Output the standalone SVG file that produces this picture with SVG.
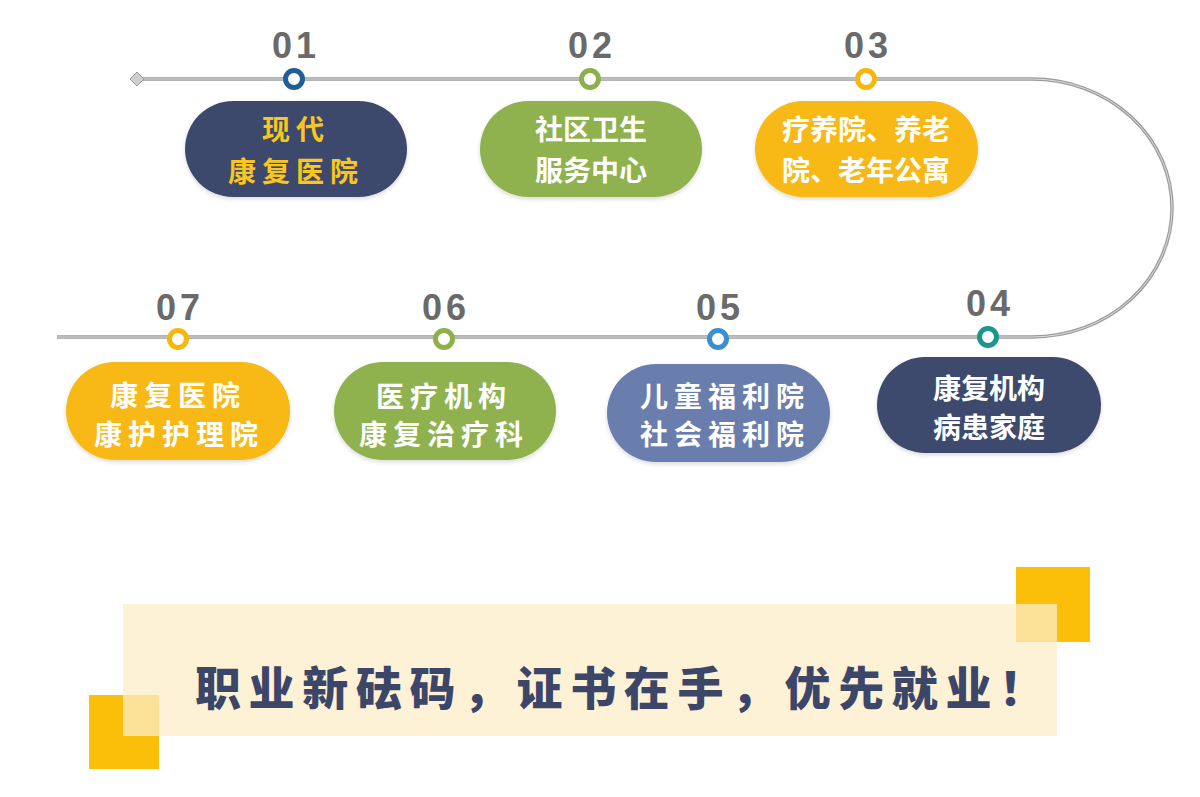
<svg xmlns="http://www.w3.org/2000/svg" width="1200" height="797" viewBox="0 0 1200 797">
<defs>
<style>
.num{font-family:"Liberation Sans","DejaVu Sans",sans-serif;font-weight:700;font-size:36px;fill:#6a6a6a;text-anchor:middle;letter-spacing:4px}
.pt{font-family:"Noto Sans CJK SC","Noto Sans",sans-serif;font-weight:700;font-size:28px;fill:#ffffff;text-anchor:middle}
.wide{letter-spacing:6px}
.yel{fill:#f9c61d}
.ring{fill:#ffffff;stroke-width:5}
.banner{font-family:"Noto Sans CJK SC","Noto Sans",sans-serif;font-weight:900;font-size:46px;fill:#3b4668;letter-spacing:7.6px}
</style>
<filter id="sh" x="-10%" y="-10%" width="120%" height="130%">
<feDropShadow dx="0" dy="2" stdDeviation="2" flood-color="#000" flood-opacity="0.15"/>
</filter>
</defs>
<rect width="1200" height="797" fill="#ffffff"/>
<g id="connectors">
<path d="M137,79 H1032 A140,129 0 0 1 1032,337 H57" fill="none" stroke="#9c9c9c" stroke-width="3.5"/>
<path d="M137,79 H1032 A140,129 0 0 1 1032,337 H57" fill="none" stroke="#dcdcdc" stroke-width="1"/>
<path d="M130,79 L137,72 L144,79 L137,86 Z" fill="#cfcfcf" stroke="#9a9a9a" stroke-width="1"/>
</g>
<g id="n01">
<text class="num" x="296" y="58">01</text>
<circle class="ring" cx="294" cy="79" r="8.5" stroke="#1f5e97"/>
<rect x="185" y="101" width="222" height="96" rx="48" fill="#3d4a6c" filter="url(#sh)"/>
<text class="pt yel wide" x="296" y="140">现代</text>
<text class="pt yel wide" x="296" y="182">康复医院</text>
</g>
<g id="n02">
<text class="num" x="592" y="58">02</text>
<circle class="ring" cx="590" cy="79" r="8.5" stroke="#8db04a"/>
<rect x="480" y="101" width="222" height="96" rx="48" fill="#8fb24f" filter="url(#sh)"/>
<text class="pt" x="591" y="140">社区卫生</text>
<text class="pt" x="591" y="181">服务中心</text>
</g>
<g id="n03">
<text class="num" x="868" y="58">03</text>
<circle class="ring" cx="866" cy="79" r="8.5" stroke="#f5b80a"/>
<rect x="755" y="101" width="223" height="96" rx="48" fill="#f8b912" filter="url(#sh)"/>
<text class="pt" x="866" y="140">疗养院、养老</text>
<text class="pt" x="866" y="181">院、老年公寓</text>
</g>
<g id="n04">
<text class="num" x="990" y="316">04</text>
<circle class="ring" cx="988" cy="337" r="8.5" stroke="#1b968a"/>
<rect x="877" y="357" width="224" height="96" rx="48" fill="#3e4a6d" filter="url(#sh)"/>
<text class="pt" x="989" y="399">康复机构</text>
<text class="pt" x="989" y="438">病患家庭</text>
</g>
<g id="n05">
<text class="num" x="720" y="320">05</text>
<circle class="ring" cx="718" cy="339" r="8.5" stroke="#3a8fd2"/>
<rect x="607" y="364" width="223" height="98" rx="49" fill="#6b7eae" filter="url(#sh)"/>
<text class="pt wide" x="725" y="407">儿童福利院</text>
<text class="pt wide" x="725" y="445">社会福利院</text>
</g>
<g id="n06">
<text class="num" x="446" y="320">06</text>
<circle class="ring" cx="444" cy="339" r="8.5" stroke="#8db04a"/>
<rect x="334" y="362" width="222" height="98" rx="49" fill="#8fb24f" filter="url(#sh)"/>
<text class="pt wide" x="444" y="407">医疗机构</text>
<text class="pt wide" x="444" y="445">康复治疗科</text>
</g>
<g id="n07">
<text class="num" x="180" y="320">07</text>
<circle class="ring" cx="178" cy="339" r="8.5" stroke="#f5b80a"/>
<rect x="66" y="362" width="224" height="98" rx="49" fill="#f8b912" filter="url(#sh)"/>
<text class="pt wide" x="178" y="406">康复医院</text>
<text class="pt wide" x="179" y="445">康护护理院</text>
</g>
<g id="banner">
<rect x="89" y="695" width="70" height="74" fill="#fbbf0a"/>
<rect x="1016" y="567" width="74" height="75" fill="#fbbf0a"/>
<rect x="123" y="604" width="934" height="132" fill="#fcecc8" fill-opacity="0.75"/>
<text class="banner" x="195" y="705">职业新砝码，证书在手，优先就业！</text>
</g>
</svg>
